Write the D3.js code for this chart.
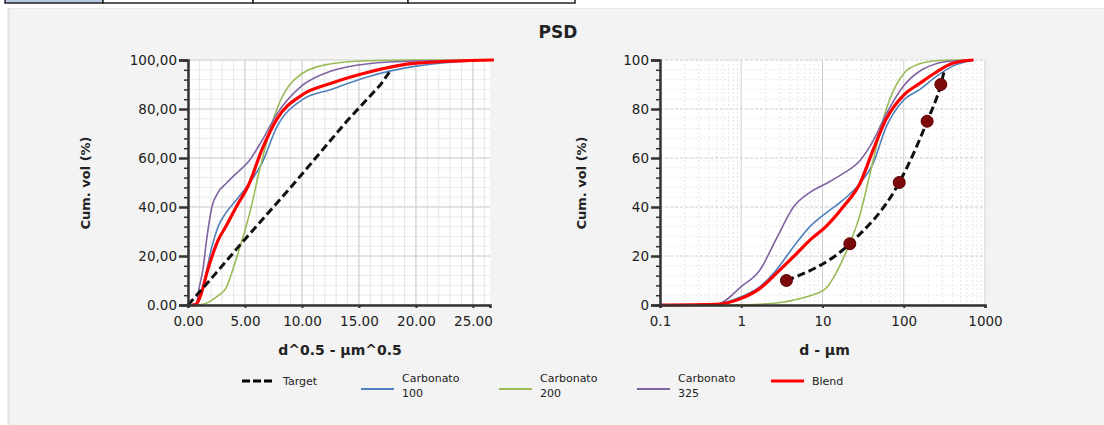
<!DOCTYPE html>
<html>
<head>
<meta charset="utf-8">
<script src="https://cdn.jsdelivr.net/npm/d3@7"></script>
<style>
  body { margin: 0; background: #ffffff; }
  svg { display: block; font-family: "DejaVu Sans", sans-serif; }
</style>
</head>
<body>
<svg id="chart" width="1104" height="425"></svg>
<script>

// 粒径 (µm) と各系列の累積体積 (%)
const sizes    = [0.1, 0.5, 1, 1.7, 2.7, 4.4, 7, 11, 18, 29, 42, 61, 100, 158, 250, 400, 720];
const carb100  = [0, 0.3, 3.4, 7.5, 14.3, 23.8, 32, 37.5, 42.9, 49.7, 57.8, 72.8, 83.7, 88, 93.2, 97.5, 100];
const carb200  = [0, 0, 0.1, 0.3, 0.8, 2, 3.8, 6.8, 19, 37, 59, 80, 94.5, 98.5, 99.7, 100, 100];
const carb325  = [0, 0.3, 7.5, 14.3, 27, 40, 46, 49.5, 53.7, 59, 67, 78, 89.5, 95.5, 98.5, 99.6, 100];
const blend    = [0, 0.3, 2.7, 6.8, 12.9, 19.7, 26.5, 32, 40.1, 49.7, 63.3, 76, 85.7, 90.5, 95, 98.7, 100];

// 目標曲線 (マーカー点と線)
const targetD       = [3.6, 21.7, 88, 194, 286];
const targetCum     = [10, 25, 50, 75, 90];
const targetLineD   = [0, 3.6, 21.7, 88, 194, 286, 312];
const targetLineCum = [0, 10, 25, 50, 75, 90, 95];

// 目盛りラベル
const yTicks       = [0, 20, 40, 60, 80, 100];
const yLabelsLeft  = ["0.00", "20,00", "40,00", "60,00", "80,00", "100,00"];
const yLabelsRight = ["0", "20", "40", "60", "80", "100"];
const xTicksLeft   = [0, 5, 10, 15, 20, 25];
const xLabelsLeft  = ["0.00", "5.00", "10.00", "15.00", "20.00", "25.00"];
const xTicksRight  = [0.1, 1, 10, 100, 1000];
const xLabelsRight = ["0.1", "1", "10", "100", "1000"];

// 凡例
const seriesNames  = ["Target", "Carbonato\n100", "Carbonato\n200", "Carbonato\n325", "Blend"];
const seriesColors = ["#000000", "#4f81bd", "#9bbb59", "#8064a2", "#ff0000"];

const svg = d3.select("#chart");

// 上部のタブと背景パネル
svg.append("rect").attr("x", 8).attr("y", 8).attr("width", 1096).attr("height", 417)
  .attr("fill", "#f3f3f3");
svg.append("line").attr("x1", 8.5).attr("x2", 8.5).attr("y1", 8).attr("y2", 425)
  .attr("stroke", "#e2e2e2").attr("stroke-width", 2);
svg.append("line").attr("x1", 8).attr("x2", 1104).attr("y1", 8.5).attr("y2", 8.5)
  .attr("stroke", "#e8e8e8").attr("stroke-width", 1);
const tabs = [[5, 103, "#b8c9e2"], [103, 253, "#ffffff"], [253, 408, "#ffffff"], [408, 575, "#ffffff"]];
tabs.forEach(([a, b, c]) => {
  svg.append("rect").attr("x", a).attr("y", -4).attr("width", b - a).attr("height", 7)
    .attr("fill", c).attr("stroke", "#222").attr("stroke-width", 1.5);
});

// タイトル
svg.append("text").attr("x", 558).attr("y", 38).attr("text-anchor", "middle")
  .attr("font-size", "17px").attr("font-weight", "bold").attr("fill", "#222").text("PSD");

const allSeries = [
  { values: carb100, color: seriesColors[1], width: 1.6 },
  { values: carb200, color: seriesColors[2], width: 1.6 },
  { values: carb325, color: seriesColors[3], width: 1.6 },
  { values: blend,   color: seriesColors[4], width: 3.2 },
];

/* 1 つのグラフを描画する */
function drawPlot(p) {
  const g = svg.append("g");
  const x = p.x, y = p.y;
  const [x0, x1] = x.range();
  const [y0, y1] = y.range();

  // プロット領域
  g.append("rect").attr("x", x0).attr("y", y1).attr("width", x1 - x0).attr("height", y0 - y1)
    .attr("fill", "#ffffff");

  // 補助グリッド
  g.selectAll(".vminor").data(p.xMinor).enter().append("line")
    .attr("x1", d => x(d)).attr("x2", d => x(d)).attr("y1", y1).attr("y2", y0)
    .attr("stroke", "#e6e6e6").attr("stroke-width", 1)
    .attr("stroke-dasharray", p.dotted ? "2,2" : null);
  g.selectAll(".hminor").data(d3.range(0, 101, 4)).enter().append("line")
    .attr("x1", x0).attr("x2", x1).attr("y1", d => y(d)).attr("y2", d => y(d))
    .attr("stroke", "#ececec").attr("stroke-width", 1)
    .attr("stroke-dasharray", p.dotted ? "2,2" : null);

  // 主グリッド
  g.selectAll(".vmajor").data(p.xTicks).enter().append("line")
    .attr("x1", d => x(d)).attr("x2", d => x(d)).attr("y1", y1).attr("y2", y0)
    .attr("stroke", "#cfcfcf").attr("stroke-width", 1);
  g.selectAll(".hmajor").data(yTicks).enter().append("line")
    .attr("x1", x0).attr("x2", x1).attr("y1", d => y(d)).attr("y2", d => y(d))
    .attr("stroke", "#d2d2d2").attr("stroke-width", 1)
    .attr("stroke-dasharray", p.dotted ? "3,2" : null);

  // 系列の線
  const line = d3.line()
    .x(d => x(p.fx(d[0])))
    .y(d => y(d[1]))
    .curve(d3.curveMonotoneX);
  allSeries.forEach(s => {
    const pts = sizes.map((d, i) => [d, s.values[i]]);
    g.append("path").attr("d", line(pts)).attr("fill", "none")
      .attr("stroke", s.color).attr("stroke-width", s.width);
  });

  // 目標線
  const tpts = targetLineD.map((d, i) => [d, targetLineCum[i]]).filter(d => p.fx(d[0]) !== null);
  g.append("path").attr("d", line.curve(p.targetCurve)(tpts)).attr("fill", "none")
    .attr("stroke", "#111").attr("stroke-width", 3).attr("stroke-dasharray", "8,4");

  if (p.markers) {
    g.selectAll(".mk").data(targetD.map((d, i) => [d, targetCum[i]])).enter().append("circle")
      .attr("cx", d => x(p.fx(d[0]))).attr("cy", d => y(d[1])).attr("r", 6)
      .attr("fill", "#7d0a0a").attr("stroke", "#5a0000").attr("stroke-width", 1);
  }

  // Y 軸
  const minorY = d3.range(0, 101, 4).filter(d => d % 20 !== 0);
  g.append("g").attr("transform", `translate(${x0},0)`)
    .call(d3.axisLeft(y).tickValues(minorY).tickSize(4).tickFormat(""))
    .call(a => a.select(".domain").remove())
    .call(a => a.selectAll("line").attr("stroke", "#333").attr("stroke-width", 1.5));
  g.append("g").attr("transform", `translate(${x0},0)`)
    .call(d3.axisLeft(y).tickValues(yTicks).tickSize(9).tickPadding(2)
      .tickFormat((d, i) => p.yLabels[i]))
    .call(a => a.select(".domain").attr("stroke", "#333").attr("stroke-width", 2.5))
    .call(a => a.selectAll("line").attr("stroke", "#333").attr("stroke-width", 2.5))
    .call(a => a.selectAll("text").attr("font-size", "13.5px").attr("fill", "#222")
      .attr("font-family", "DejaVu Sans"));

  // X 軸
  g.append("g").attr("transform", `translate(0,${y0})`)
    .call(d3.axisBottom(x).tickValues(p.xTicks).tickSize(3).tickPadding(8)
      .tickFormat((d, i) => p.xLabels[i]))
    .call(a => a.select(".domain").attr("stroke", "#333").attr("stroke-width", 2.5))
    .call(a => a.selectAll("line").attr("stroke", "#333").attr("stroke-width", 2))
    .call(a => a.selectAll("text").attr("font-size", "13.5px").attr("fill", "#222")
      .attr("font-family", "DejaVu Sans"));

  // 軸タイトル
  g.append("text").attr("transform", `translate(${p.yTitleX},183) rotate(-90)`)
    .attr("text-anchor", "middle").attr("dominant-baseline", "middle")
    .attr("font-size", "13px").attr("font-weight", "bold").attr("fill", "#222")
    .text("Cum. vol (%)");
  g.append("text").attr("x", (x0 + x1) / 2 + p.xTitleDx).attr("y", 355)
    .attr("text-anchor", "middle")
    .attr("font-size", "14px").attr("font-weight", "bold").attr("fill", "#222")
    .text(p.xTitle);
}

const yScale = d3.scaleLinear().domain([0, 100]).range([305, 60]);

// 左: d^0.5 軸
drawPlot({
  x: d3.scaleLinear().domain([0, 26.5]).range([188, 490]),
  y: yScale,
  fx: d => Math.sqrt(d),
  xTicks: xTicksLeft, xLabels: xLabelsLeft,
  xMinor: d3.range(0, 27, 1),
  yLabels: yLabelsLeft,
  dotted: false,
  markers: false,
  targetCurve: d3.curveLinear,
  yTitleX: 86, xTitle: "d^0.5 - µm^0.5", xTitleDx: 1,
});

// 右: 対数軸
drawPlot({
  x: d3.scaleLog().domain([0.1, 1000]).range([660, 985]),
  y: yScale,
  fx: d => (d > 0 ? d : null),
  xTicks: xTicksRight, xLabels: xLabelsRight,
  xMinor: d3.range(-1, 3).flatMap(e => d3.range(2, 10).map(k => k * Math.pow(10, e))),
  yLabels: yLabelsRight,
  dotted: true,
  markers: true,
  targetCurve: d3.curveMonotoneX,
  yTitleX: 582, xTitle: "d - µm", xTitleDx: 2,
});

// 凡例
const legendTextX = [283, 402, 540, 678, 812];
const lg = svg.append("g").attr("class", "legend").attr("font-size", "11px").attr("fill", "#222");
seriesNames.forEach((name, i) => {
  const tx = legendTextX[i];
  const two = name.includes("\n");
  const ly = two ? 389 : 381;
  lg.append("line").attr("x1", tx - 41).attr("x2", tx - 8).attr("y1", ly).attr("y2", ly)
    .attr("stroke", seriesColors[i])
    .attr("stroke-width", i === 0 ? 3 : (i === 4 ? 3.2 : 1.8))
    .attr("stroke-dasharray", i === 0 ? "8,3" : null);
  name.split("\n").forEach((t, j) => {
    lg.append("text").attr("x", tx).attr("y", (two ? 382 : 385) + j * 15).text(t);
  });
});
</script>
</body>
</html>
